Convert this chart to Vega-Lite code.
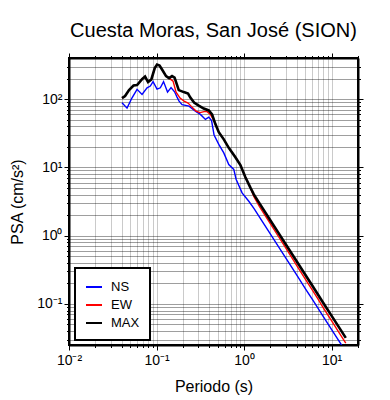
{
  "$schema": "https://vega.github.io/schema/vega-lite/v6.json",
  "width": 289,
  "height": 287,
  "padding": {"left": 9, "top": 20, "right": 5, "bottom": 5},
  "title": {"text": "Cuesta Moras, San José (SION)", "fontSize": 20, "font": "Liberation Sans", "fontWeight": "normal", "color": "black", "offset": 12},
  "config": {
    "view": {"stroke": "black", "strokeWidth": 2},
    "axis": {"labelFont": "Liberation Sans", "titleFont": "Liberation Sans", "labelFontSize": 14, "titleFontSize": 16, "titleFontWeight": "normal", "labelColor": "black", "titleColor": "black", "tickColor": "black", "tickWidth": 1, "domainColor": "black", "domainWidth": 2, "gridColor": "black", "gridOpacity": 0.55, "gridWidth": 0.7, "labelOverlap": false, "labelFlush": false},
    "legend": {"strokeWidth": 2}
  },
  "data": {"values": [
    {"c":"NS","T":0.0403,"psa":88.3},{"c":"NS","T":0.046,"psa":73.8},{"c":"NS","T":0.0525,"psa":104.5},{"c":"NS","T":0.0599,"psa":138.8},{"c":"NS","T":0.0683,"psa":117.2},{"c":"NS","T":0.0779,"psa":146.4},{"c":"NS","T":0.0849,"psa":155.1},{"c":"NS","T":0.0912,"psa":180.5},{"c":"NS","T":0.1013,"psa":140.2},{"c":"NS","T":0.1105,"psa":146.4},{"c":"NS","T":0.1202,"psa":180.5},{"c":"NS","T":0.1335,"psa":126.7},{"c":"NS","T":0.1464,"psa":147.4},{"c":"NS","T":0.1606,"psa":127.9},{"c":"NS","T":0.1715,"psa":107.0},{"c":"NS","T":0.1808,"psa":93.5},{"c":"NS","T":0.1956,"psa":83.1},{"c":"NS","T":0.2351,"psa":79.0},{"c":"NS","T":0.2776,"psa":66.7},{"c":"NS","T":0.3167,"psa":59.7},{"c":"NS","T":0.346,"psa":53.2},{"c":"NS","T":0.3612,"psa":50.4},{"c":"NS","T":0.3951,"psa":54.5},{"c":"NS","T":0.4251,"psa":48.4},{"c":"NS","T":0.4541,"psa":29.7},{"c":"NS","T":0.514,"psa":21.7},{"c":"NS","T":0.5861,"psa":16.3},{"c":"NS","T":0.6683,"psa":11.0},{"c":"NS","T":0.7627,"psa":9.32},{"c":"NS","T":0.81,"psa":6.71},{"c":"NS","T":0.948,"psa":4.23},{"c":"NS","T":1.132,"psa":3.19},{"c":"NS","T":1.3,"psa":2.49},{"c":"NS","T":1.5,"psa":1.87},{"c":"NS","T":2.0,"psa":1.05},{"c":"NS","T":2.5,"psa":0.674},{"c":"NS","T":3.0,"psa":0.468},{"c":"NS","T":4.0,"psa":0.263},{"c":"NS","T":5.0,"psa":0.168},{"c":"NS","T":6.0,"psa":0.117},{"c":"NS","T":7.0,"psa":0.0857},{"c":"NS","T":8.0,"psa":0.0655},{"c":"NS","T":10.0,"psa":0.0421},{"c":"NS","T":12.0,"psa":0.0292},{"c":"NS","T":14.5,"psa":0.02},
    {"c":"EW","T":0.0403,"psa":103.4},{"c":"EW","T":0.0437,"psa":110.7},{"c":"EW","T":0.0485,"psa":135.5},{"c":"EW","T":0.0546,"psa":157.8},{"c":"EW","T":0.0599,"psa":160.3},{"c":"EW","T":0.0683,"psa":196.3},{"c":"EW","T":0.0739,"psa":213.6},{"c":"EW","T":0.08,"psa":177.4},{"c":"EW","T":0.0872,"psa":194.4},{"c":"EW","T":0.0954,"psa":284.8},{"c":"EW","T":0.1013,"psa":320.6},{"c":"EW","T":0.1082,"psa":309.8},{"c":"EW","T":0.1156,"psa":270.8},{"c":"EW","T":0.1284,"psa":217.3},{"c":"EW","T":0.1389,"psa":203.2},{"c":"EW","T":0.1544,"psa":183.7},{"c":"EW","T":0.167,"psa":126.7},{"c":"EW","T":0.1856,"psa":103.4},{"c":"EW","T":0.2062,"psa":93.5},{"c":"EW","T":0.2291,"psa":87.4},{"c":"EW","T":0.2544,"psa":76.3},{"c":"EW","T":0.2827,"psa":66.7},{"c":"EW","T":0.3141,"psa":63.4},{"c":"EW","T":0.349,"psa":65.6},{"c":"EW","T":0.3777,"psa":65.6},{"c":"EW","T":0.412,"psa":59.7},{"c":"EW","T":0.4423,"psa":50.9},{"c":"EW","T":0.4699,"psa":43.0},{"c":"EW","T":0.514,"psa":32.8},{"c":"EW","T":0.5861,"psa":25.7},{"c":"EW","T":0.6683,"psa":19.3},{"c":"EW","T":0.7952,"psa":14.1},{"c":"EW","T":0.9074,"psa":10.8},{"c":"EW","T":1.035,"psa":7.18},{"c":"EW","T":1.18,"psa":5.04},{"c":"EW","T":1.291,"psa":3.75},{"c":"EW","T":1.5,"psa":2.67},{"c":"EW","T":2.0,"psa":1.49},{"c":"EW","T":2.5,"psa":0.95},{"c":"EW","T":3.0,"psa":0.654},{"c":"EW","T":4.0,"psa":0.364},{"c":"EW","T":5.0,"psa":0.231},{"c":"EW","T":6.0,"psa":0.16},{"c":"EW","T":7.0,"psa":0.117},{"c":"EW","T":8.0,"psa":0.0884},{"c":"EW","T":10.0,"psa":0.0564},{"c":"EW","T":12.0,"psa":0.039},{"c":"EW","T":14.5,"psa":0.0266},
    {"c":"MAX","T":0.0403,"psa":103.4},{"c":"MAX","T":0.0437,"psa":110.7},{"c":"MAX","T":0.0485,"psa":135.5},{"c":"MAX","T":0.0546,"psa":157.8},{"c":"MAX","T":0.0599,"psa":160.3},{"c":"MAX","T":0.0683,"psa":196.3},{"c":"MAX","T":0.0739,"psa":213.6},{"c":"MAX","T":0.08,"psa":177.4},{"c":"MAX","T":0.0872,"psa":194.4},{"c":"MAX","T":0.0954,"psa":284.8},{"c":"MAX","T":0.1013,"psa":320.6},{"c":"MAX","T":0.1082,"psa":309.8},{"c":"MAX","T":0.1156,"psa":270.8},{"c":"MAX","T":0.1284,"psa":217.3},{"c":"MAX","T":0.1389,"psa":203.2},{"c":"MAX","T":0.1503,"psa":217.3},{"c":"MAX","T":0.1606,"psa":206.6},{"c":"MAX","T":0.1794,"psa":135.5},{"c":"MAX","T":0.2047,"psa":126.7},{"c":"MAX","T":0.2291,"psa":120.4},{"c":"MAX","T":0.2433,"psa":105.2},{"c":"MAX","T":0.2683,"psa":88.9},{"c":"MAX","T":0.3036,"psa":80.3},{"c":"MAX","T":0.346,"psa":72.6},{"c":"MAX","T":0.3951,"psa":68.3},{"c":"MAX","T":0.4308,"psa":59.7},{"c":"MAX","T":0.4699,"psa":43.0},{"c":"MAX","T":0.514,"psa":32.8},{"c":"MAX","T":0.5861,"psa":25.7},{"c":"MAX","T":0.6683,"psa":19.3},{"c":"MAX","T":0.7952,"psa":14.1},{"c":"MAX","T":0.9074,"psa":10.8},{"c":"MAX","T":1.035,"psa":7.18},{"c":"MAX","T":1.18,"psa":5.04},{"c":"MAX","T":1.291,"psa":4.01},{"c":"MAX","T":1.5,"psa":2.97},{"c":"MAX","T":2.0,"psa":1.67},{"c":"MAX","T":2.5,"psa":1.07},{"c":"MAX","T":3.0,"psa":0.743},{"c":"MAX","T":4.0,"psa":0.418},{"c":"MAX","T":5.0,"psa":0.267},{"c":"MAX","T":6.0,"psa":0.186},{"c":"MAX","T":7.0,"psa":0.136},{"c":"MAX","T":8.0,"psa":0.104},{"c":"MAX","T":10.0,"psa":0.0668},{"c":"MAX","T":12.0,"psa":0.0464},{"c":"MAX","T":14.5,"psa":0.0318}
  ]},
  "layer": [
    {
      "transform": [{"filter": "datum.c == 'NS'"}],
      "mark": {"type": "line", "strokeWidth": 1.4, "clip": true},
      "encoding": {
        "x": {"field": "T", "type": "quantitative", "scale": {"type": "log", "domain": [0.01, 20], "nice": false},
          "axis": {"orient": "bottom", "title": "Periodo (s)", "titlePadding": 11,
            "values": [0.01,0.02,0.03,0.04,0.05,0.06,0.07,0.08,0.09,0.1,0.2,0.3,0.4,0.5,0.6,0.7,0.8,0.9,1,2,3,4,5,6,7,8,9,10,20],
            "labelExpr": "datum.value==0.01?'10⁻²':datum.value==0.1?'10⁻¹':datum.value==1?'10⁰':datum.value==10?'10¹':''",
            "tickSize": {"condition": {"test": "datum.value==0.01||datum.value==0.1||datum.value==1||datum.value==10", "value": 5}, "value": 2.5},
            "gridOpacity": {"condition": {"test": "datum.value==0.01||datum.value==20", "value": 0}, "value": 0.55},
            "labelPadding": 3}},
        "y": {"field": "psa", "type": "quantitative", "scale": {"type": "log", "domain": [0.025, 400], "nice": false},
          "axis": {"orient": "left", "title": "PSA (cm/s²)", "titlePadding": 11,
            "values": [0.03,0.04,0.05,0.06,0.07,0.08,0.09,0.1,0.2,0.3,0.4,0.5,0.6,0.7,0.8,0.9,1,2,3,4,5,6,7,8,9,10,20,30,40,50,60,70,80,90,100,200,300],
            "labelExpr": "datum.value==0.1?'10⁻¹':datum.value==1?'10⁰':datum.value==10?'10¹':datum.value==100?'10²':''",
            "tickSize": {"condition": {"test": "datum.value==0.1||datum.value==1||datum.value==10||datum.value==100", "value": 5}, "value": 2.5},
            "labelPadding": 2}},
        "color": {"field": "c", "type": "nominal",
          "scale": {"domain": ["NS", "EW", "MAX"], "range": ["#0000ff", "#ff0000", "#000000"]},
          "legend": {"orient": "none", "legendX": 6, "legendY": 210, "title": null, "fillColor": "white", "strokeColor": "black", "padding": 10, "symbolType": "stroke", "symbolSize": 256, "symbolStrokeWidth": 2, "labelFontSize": 13, "labelFont": "Liberation Sans", "labelColor": "black", "labelOffset": 8, "rowPadding": 2, "labelExpr": "datum.label + '\u00a0\u00a0\u00a0'"}}
      }
    },
    {
      "transform": [{"filter": "datum.c == 'EW'"}],
      "mark": {"type": "line", "strokeWidth": 1.4, "clip": true},
      "encoding": {
        "x": {"field": "T", "type": "quantitative", "axis": null},
        "y": {"field": "psa", "type": "quantitative", "axis": null},
        "color": {"field": "c", "type": "nominal"}
      }
    },
    {
      "transform": [{"filter": "datum.c == 'MAX'"}],
      "mark": {"type": "line", "strokeWidth": 2.6, "clip": true},
      "encoding": {
        "x": {"field": "T", "type": "quantitative",
          "axis": {"orient": "top", "title": null, "labels": false, "grid": false,
            "values": [0.01,0.02,0.03,0.04,0.05,0.06,0.07,0.08,0.09,0.1,0.2,0.3,0.4,0.5,0.6,0.7,0.8,0.9,1,2,3,4,5,6,7,8,9,10,20],
            "tickSize": {"condition": {"test": "datum.value==0.01||datum.value==0.1||datum.value==1||datum.value==10", "value": 5}, "value": 2.5}}},
        "y": {"field": "psa", "type": "quantitative",
          "axis": {"orient": "right", "title": null, "labels": false, "grid": false,
            "values": [0.03,0.04,0.05,0.06,0.07,0.08,0.09,0.1,0.2,0.3,0.4,0.5,0.6,0.7,0.8,0.9,1,2,3,4,5,6,7,8,9,10,20,30,40,50,60,70,80,90,100,200,300],
            "tickSize": {"condition": {"test": "datum.value==0.1||datum.value==1||datum.value==10||datum.value==100", "value": 5}, "value": 2.5}}},
        "color": {"field": "c", "type": "nominal"}
      }
    }
  ],
  "resolve": {"axis": {"x": "independent", "y": "independent"}}
}
